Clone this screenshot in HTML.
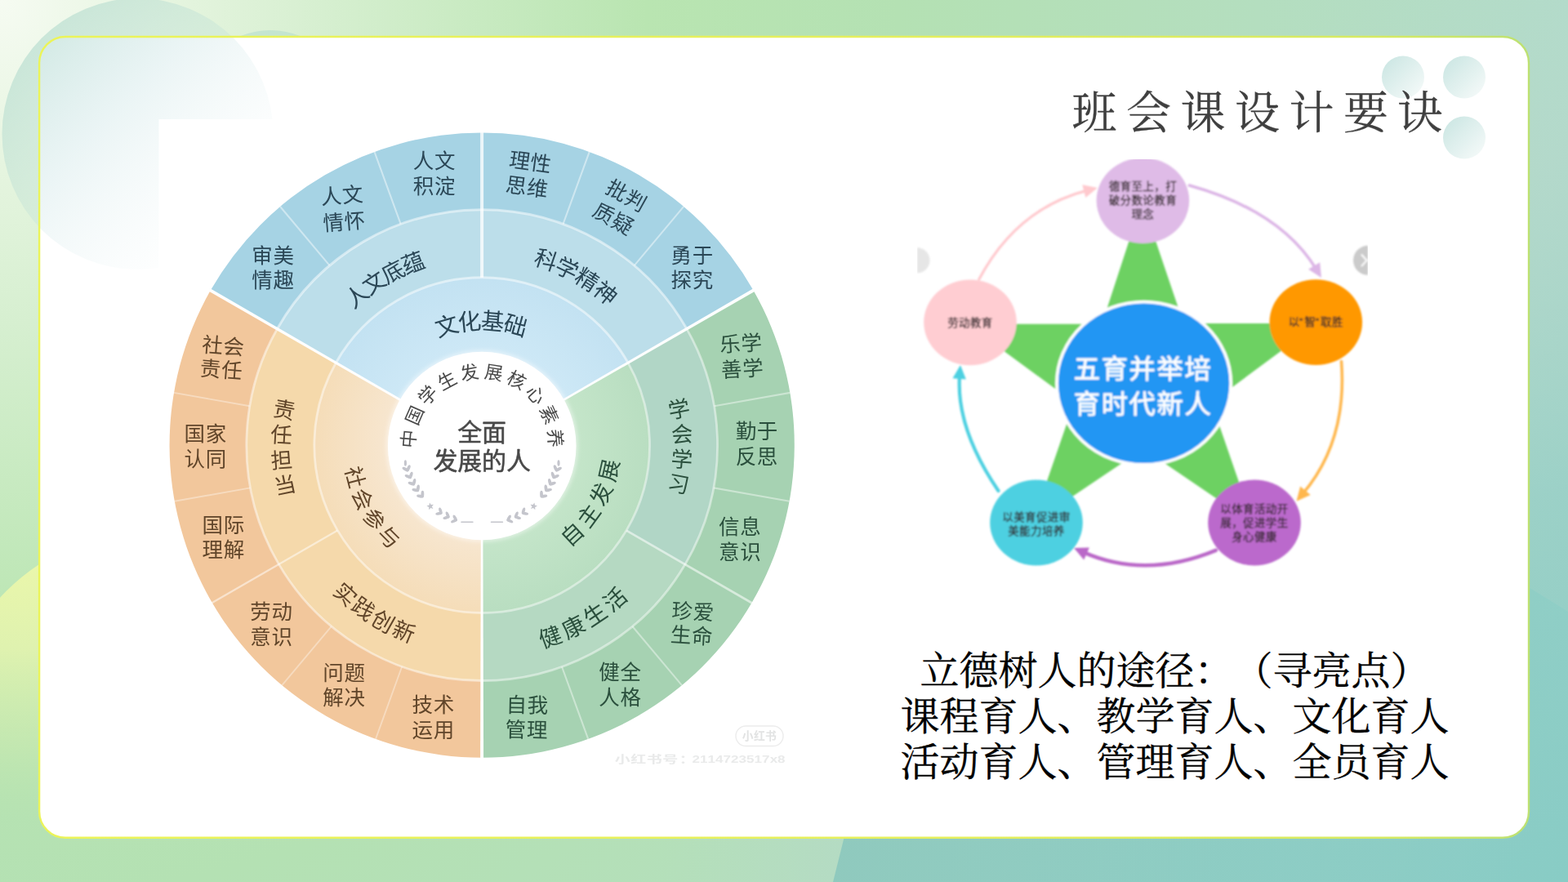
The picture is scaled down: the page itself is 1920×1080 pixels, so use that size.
<!DOCTYPE html>
<html lang="zh-CN">
<head>
<meta charset="utf-8">
<title>班会课设计要诀</title>
<style>
html,body{margin:0;padding:0;background:#b7e2b8}
body{width:1920px;height:1080px;overflow:hidden;font-family:"Liberation Sans","Noto Sans CJK SC",sans-serif}
.slide{position:relative;width:1920px;height:1080px;overflow:hidden}
.slide>svg{position:absolute;left:0;top:0;display:block}
</style>
</head>
<body>
<div class="slide">
<svg width="1920" height="1080" viewBox="0 0 1920 1080">
<defs>
<radialGradient id="bg" gradientUnits="userSpaceOnUse" cx="0" cy="0" r="2200">
<stop offset="0" stop-color="#f6fbf2"/><stop offset=".09" stop-color="#e6f5e0"/><stop offset=".18" stop-color="#d6efd0"/><stop offset=".36" stop-color="#b9e5b1"/><stop offset=".5" stop-color="#b4e1b3"/><stop offset=".7" stop-color="#b4debf"/><stop offset=".87" stop-color="#b3dbca"/><stop offset="1" stop-color="#a6d5c8"/>
</radialGradient>
<radialGradient id="bg2" gradientUnits="userSpaceOnUse" cx="1960" cy="1120" r="1150">
<stop offset="0" stop-color="#86cac4" stop-opacity=".95"/><stop offset=".45" stop-color="#93cdc6" stop-opacity=".7"/><stop offset=".8" stop-color="#b4d6cc" stop-opacity=".42"/><stop offset="1" stop-color="#b8d8cc" stop-opacity="0"/>
</radialGradient>
<linearGradient id="yel" gradientUnits="userSpaceOnUse" x1="0" y1="680" x2="0" y2="1010">
<stop offset="0" stop-color="#ebf7aa"/><stop offset=".35" stop-color="#e2f3af" stop-opacity=".92"/><stop offset=".7" stop-color="#cdebb0" stop-opacity=".55"/><stop offset="1" stop-color="#b8e3b0" stop-opacity="0"/>
</linearGradient>
<linearGradient id="teal" gradientUnits="userSpaceOnUse" x1="1020" y1="900" x2="1920" y2="1080">
<stop offset="0" stop-color="#8dc8bd" stop-opacity=".95"/><stop offset=".6" stop-color="#88cbc3" stop-opacity=".7"/><stop offset="1" stop-color="#86cdc6" stop-opacity=".38"/>
</linearGradient>
<linearGradient id="cb" gradientUnits="userSpaceOnUse" x1="48" y1="0" x2="1872" y2="0">
<stop offset="0" stop-color="#ebf458"/><stop offset=".6" stop-color="#e5ef5c"/><stop offset=".9" stop-color="#d6ea62"/><stop offset="1" stop-color="#bde172"/>
</linearGradient>
<linearGradient id="big" gradientUnits="userSpaceOnUse" x1="40" y1="40" x2="290" y2="290">
<stop offset="0" stop-color="#92cbbc" stop-opacity=".43"/><stop offset=".4" stop-color="#a3d0d2" stop-opacity=".22"/><stop offset="1" stop-color="#dfeff2" stop-opacity="0"/>
</linearGradient>
<linearGradient id="dot" x1="0.15" y1="0.15" x2="0.85" y2="0.85">
<stop offset="0" stop-color="#cfe8e5"/><stop offset="1" stop-color="#f1f8f7"/>
</linearGradient>
<radialGradient id="ib" gradientUnits="userSpaceOnUse" cx="590.2" cy="545.2" r="203"><stop offset=".58" stop-color="#cde8f6"/><stop offset="1" stop-color="#c3e2f2"/></radialGradient>
<radialGradient id="ig" gradientUnits="userSpaceOnUse" cx="590.2" cy="545.2" r="203"><stop offset=".58" stop-color="#c4e5c9"/><stop offset="1" stop-color="#b9dec1"/></radialGradient>
<radialGradient id="io" gradientUnits="userSpaceOnUse" cx="590.2" cy="545.2" r="203"><stop offset=".58" stop-color="#f7e6cf"/><stop offset="1" stop-color="#f5ddb9"/></radialGradient>
<filter id="soft" x="-10%" y="-10%" width="120%" height="120%"><feGaussianBlur stdDeviation="2.5"/></filter>
<filter id="b1" filterUnits="userSpaceOnUse" x="190" y="140" width="820" height="810"><feGaussianBlur stdDeviation=".75"/></filter>
<filter id="b2" filterUnits="userSpaceOnUse" x="1100" y="180" width="600" height="540"><feGaussianBlur stdDeviation=".85"/></filter>
<filter id="wmb" filterUnits="userSpaceOnUse" x="740" y="880" width="240" height="60"><feGaussianBlur stdDeviation=".6"/></filter>
<clipPath id="imgclip"><rect x="1123" y="195" width="552" height="515"/></clipPath>
</defs>

<rect width="1920" height="1080" fill="url(#bg)"/>
<rect width="1920" height="1080" fill="url(#bg2)"/>
<circle cx="185" cy="900" r="250" fill="url(#yel)"/>
<polygon points="1020,1080 1920,1080 1920,749 1600,550 1160,520" fill="url(#teal)"/>
<circle cx="331" cy="136" r="99" fill="#a9d6c9" fill-opacity=".45"/>
<rect x="48.1" y="45" width="1823.9" height="980.8" rx="32" fill="#fff"/>
<circle cx="168.5" cy="164" r="166" fill="url(#big)"/>
<rect x="48.1" y="45" width="1823.9" height="980.8" rx="32" fill="none" stroke="url(#cb)" stroke-width="2.4"/>
<g fill="url(#dot)"><circle cx="1718" cy="94.4" r="26"/><circle cx="1793" cy="94.4" r="26"/><circle cx="1793" cy="168.6" r="26"/></g>
<rect x="194.5" y="146" width="800" height="790" fill="#fff"/>

<g id="wheel" filter="url(#b1)"><path d="M257.8 355.6A382.6 382.6 0 0 1 922.5 355.5L840.1 403.1A287.4 287.4 0 0 0 340.3 403.2Z" fill="#a6d3e4"/><path d="M339.4 402.7A288.4 288.4 0 0 1 840.9 402.6L768.2 444.6A204.4 204.4 0 0 0 412.2 444.7Z" fill="#bcdeea"/><path d="M411.3 444.2A205.4 205.4 0 0 1 769 444.1L689.3 490.1A113.3 113.3 0 0 0 491.1 490.2Z" fill="url(#ib)"/><path d="M922.5 355.5A382.6 382.6 0 0 1 590.1 927.7L590.1 832.5A287.4 287.4 0 0 0 840.1 403.1Z" fill="#a6d2b2"/><path d="M840.9 402.6A288.4 288.4 0 0 1 590.1 833.5L590.1 749.5A204.4 204.4 0 0 0 768.2 444.6Z" fill="#b5d9c2"/><path d="M769 444.1A205.4 205.4 0 0 1 590.1 750.5L590.1 658.4A113.3 113.3 0 0 0 689.3 490.1Z" fill="url(#ig)"/><path d="M590.1 927.7A382.6 382.6 0 0 1 257.8 355.6L340.3 403.2A287.4 287.4 0 0 0 590.1 832.5Z" fill="#f2c79c"/><path d="M590.1 833.5A288.4 288.4 0 0 1 339.4 402.7L412.2 444.7A204.4 204.4 0 0 0 590.1 749.5Z" fill="#f5d9ab"/><path d="M590.1 750.5A205.4 205.4 0 0 1 411.3 444.2L491.1 490.2A113.3 113.3 0 0 0 590.1 658.4Z" fill="url(#io)"/><path d="M840.9 402.6A288.4 288.4 0 0 1 838.9 691.1L767.1 649.6A205.4 205.4 0 0 0 769 444.1Z" fill="#a9d2cf" opacity=".35"/><g fill="none" stroke="#fff"><path d="M339.4 402.7A288.4 288.4 0 0 1 840.9 402.6M411.3 444.2A205.4 205.4 0 0 1 769 444.1" stroke-width="3.0" stroke-opacity="0.5"/><path d="M403.6 325.2L343.1 253M490.7 274.4L458.5 185.9M689.5 274.3L721.7 185.8M776.7 325.1L837.2 252.9" stroke-width="2.1" stroke-opacity="0.45"/><path d="M590.1 339.7L590.1 161.5" stroke-width="4.0" stroke-opacity="0.78"/><path d="M840.9 402.6A288.4 288.4 0 0 1 590.1 833.5M769 444.1A205.4 205.4 0 0 1 590.1 750.5" stroke-width="2.8" stroke-opacity="0.46"/><path d="M874.6 497.2L967.4 480.9M873.8 597.4L966.6 613.8M774.4 767L834.9 839.2M688 816.4L720.2 904.9" stroke-width="2.1" stroke-opacity="0.42"/><path d="M767.1 649.6L921.4 738.7" stroke-width="2.8" stroke-opacity="0.55"/><path d="M590.1 833.5A288.4 288.4 0 0 1 339.4 402.7M590.1 750.5A205.4 205.4 0 0 1 411.3 444.2" stroke-width="2.8" stroke-opacity="0.48"/><path d="M492.2 816.3L460 904.9M405.9 766.9L345.3 839.1M306.6 597.4L213.8 613.8M305.8 497.3L213 480.9" stroke-width="1.9" stroke-opacity="0.36"/><path d="M413.3 649.5L259 738.6" stroke-width="2.3" stroke-opacity="0.5"/><polygon points="492.6,489.6 257.1,352.9 255.1,356.3 491.3,491.9" fill="#fff" stroke="none" fill-opacity=".97"/><polygon points="689.1,491.8 925.2,356.2 923.3,352.8 687.8,489.5" fill="#fff" stroke="none" fill-opacity=".97"/><polygon points="588.8,657.4 588.1,929.7 592.1,929.7 591.4,657.4" fill="#fff" stroke="none" fill-opacity=".97"/></g><circle cx="590.2" cy="546" r="117.3" fill="#fff" fill-opacity=".5" filter="url(#soft)"/><circle cx="590.2" cy="546" r="115.3" fill="#fff"/>
<g fill="#2b4656" font-family="'Liberation Sans','Noto Sans CJK SC',sans-serif" font-size="25.5">
<text x="308.25 334.45" y="321.82">审美</text>
<text x="308.25 334.45" y="352.32">情趣</text>
<text transform="translate(393.62 250.61) rotate(-4.5)" x="0 26.2">人文</text>
<text transform="translate(396.26 282.71) rotate(-4.5)" x="0 26.2">情怀</text>
<text x="505.85 532.05" y="205.77">人文</text>
<text x="505.85 532.05" y="237.37">积淀</text>
<text transform="translate(622.42 203.88) rotate(7.8)" x="0 26.2">理性</text>
<text transform="translate(618.35 234.41) rotate(7.8)" x="0 26.2">思维</text>
<text transform="translate(739.83 234.93) rotate(29.05)" x="0 26.2">批判</text>
<text transform="translate(723.78 263.31) rotate(29.05)" x="0 26.2">质疑</text>
<text x="821.55 847.75" y="322.42">勇于</text>
<text x="821.55 847.75" y="352.32">探究</text>
<g font-size="27.6">
<text transform="translate(432.76 378.91) rotate(-39.8)">人</text>
<text transform="translate(452.36 362.32) rotate(-34)">文</text>
<text transform="translate(473.7 348.03) rotate(-27)">底</text>
<text transform="translate(496.5 336.23) rotate(-21)">蕴</text>
<text transform="translate(652.23 323.25) rotate(18.8)">科</text>
<text transform="translate(677.61 331.97) rotate(25.6)">学</text>
<text transform="translate(701.81 343.59) rotate(32.5)">精</text>
<text transform="translate(724.49 357.94) rotate(39.1)">神</text>
</g>
<g font-size="28.5">
<text transform="translate(536.32 413.12) rotate(-16.2)">文</text>
<text transform="translate(561.76 405.41) rotate(-6)">化</text>
<text transform="translate(588.19 402.56) rotate(5)">基</text>
<text transform="translate(614.69 404.67) rotate(15.3)">础</text>
</g>
</g>
<g fill="#2a4f3c" font-family="'Liberation Sans','Noto Sans CJK SC',sans-serif" font-size="25.5">
<text transform="translate(881.75 431.22) rotate(-3.4)" x="0 26.2">乐学</text>
<text transform="translate(883.6 462.36) rotate(-3.4)" x="0 26.2">善学</text>
<text x="900.65 926.85" y="537.27">勤于</text>
<text x="900.65 926.85" y="567.87">反思</text>
<text x="879.95 906.15" y="653.92">信息</text>
<text x="879.95 906.15" y="685.42">意识</text>
<text transform="translate(822.07 756.38) rotate(3.4)" x="0 26.2">珍爱</text>
<text transform="translate(820.42 785.83) rotate(3.4)" x="0 26.2">生命</text>
<text x="733.35 759.55" y="832.02">健全</text>
<text x="733.35 759.55" y="862.52">人格</text>
<text transform="translate(619.4 872.04) rotate(1.1)" x="0 26.2">自我</text>
<text transform="translate(618.61 902.13) rotate(1.1)" x="0 26.2">管理</text>
<g font-size="26.5">
<text transform="translate(820.28 512.92) rotate(-10.9)">学</text>
<text transform="translate(822.5 541.89) rotate(-3.2)">会</text>
<text transform="translate(821.08 570.91) rotate(4.3)">学</text>
<text transform="translate(816.05 599.53) rotate(10.9)">习</text>
</g>
<g font-size="27.7">
<text transform="translate(664.15 794.29) rotate(-20.1)">健</text>
<text transform="translate(694.26 783.3) rotate(-26.6)">康</text>
<text transform="translate(722.79 768.68) rotate(-34)">生</text>
<text transform="translate(749.3 750.66) rotate(-40.6)">活</text>
</g>
<g font-size="27.2">
<text transform="translate(697.5 670.8) rotate(-42.8)">自</text>
<text transform="translate(720.96 648.2) rotate(-54)">主</text>
<text transform="translate(739.56 621.45) rotate(-65.3)">发</text>
<text transform="translate(752.57 591.58) rotate(-77.2)">展</text>
</g>
</g>
<g fill="#614529" font-family="'Liberation Sans','Noto Sans CJK SC',sans-serif" font-size="25.5">
<text x="504.55 530.75" y="872.37">技术</text>
<text x="504.55 530.75" y="902.97">运用</text>
<text x="395.35 421.55" y="832.67">问题</text>
<text x="395.35 421.55" y="863.27">解决</text>
<text x="306.35 332.55" y="758.47">劳动</text>
<text x="306.35 332.55" y="789.07">意识</text>
<text x="247.55 273.75" y="651.87">国际</text>
<text x="247.55 273.75" y="682.47">理解</text>
<text x="225.45 251.65" y="539.87">国家</text>
<text x="225.45 251.65" y="571.27">认同</text>
<text transform="translate(246.74 430.66) rotate(4.5)" x="0 26.2">社会</text>
<text transform="translate(244.31 459.66) rotate(4.5)" x="0 26.2">责任</text>
<g font-size="27.2">
<text transform="translate(406.19 725.63) rotate(42.8)">实</text>
<text transform="translate(428.16 745.58) rotate(36)">践</text>
<text transform="translate(452.28 762.88) rotate(29.4)">创</text>
<text transform="translate(478.22 777.29) rotate(22.4)">新</text>
</g>
<g font-size="26.5">
<text transform="translate(333.27 508.7) rotate(10.9)">责</text>
<text transform="translate(330.73 541.33) rotate(3.2)">任</text>
<text transform="translate(332.32 574.01) rotate(-4.3)">担</text>
<text transform="translate(338.01 606.24) rotate(-11.9)">当</text>
</g>
<g font-size="26">
<text transform="translate(422.29 574.01) rotate(75.4)">社</text>
<text transform="translate(430.04 603.2) rotate(65.9)">会</text>
<text transform="translate(442.81 630.57) rotate(56)">参</text>
<text transform="translate(460.22 655.25) rotate(45)">与</text>
</g>
</g>
<g fill="#484848" stroke="#484848" stroke-width="0.54" stroke-linejoin="round" font-family="'Liberation Sans','Noto Sans CJK SC',sans-serif" font-size="30">
<text x="560.3 590.1" y="540.4">全面</text>
<text x="530.5 560.3 590.1 619.9" y="575.4">发展的人</text>
</g>
<g fill="#4a4a4a" font-family="'Liberation Sans','Noto Sans CJK SC',sans-serif" font-size="22.5">
<text transform="translate(507.58 549.16) rotate(-84.9)">中</text>
<text transform="translate(510.69 522.28) rotate(-66.3)">国</text>
<text transform="translate(522.32 497.83) rotate(-47.7)">学</text>
<text transform="translate(541.21 478.45) rotate(-27.7)">生</text>
<text transform="translate(565.35 466.2) rotate(-10.3)">发</text>
<text transform="translate(592.15 462.4) rotate(9)">展</text>
<text transform="translate(618.74 467.46) rotate(27.7)">核</text>
<text transform="translate(642.28 480.83) rotate(46.8)">心</text>
<text transform="translate(660.23 501.08) rotate(65.1)">素</text>
<text transform="translate(670.69 526.05) rotate(84.9)">养</text>
</g>
<g fill="#c4c5cc"><ellipse cx="3.1" cy="0" rx="4.7" ry="2.05" transform="translate(499 576.1)rotate(-150.8)scale(0.93)"/><ellipse cx="3.1" cy="0" rx="4.7" ry="2.05" transform="translate(499 576.1)rotate(-66.8)scale(0.93)"/><ellipse cx="3.1" cy="0" rx="4.7" ry="2.05" transform="translate(502.4 584.7)rotate(-156.3)scale(0.93)"/><ellipse cx="3.1" cy="0" rx="4.7" ry="2.05" transform="translate(502.4 584.7)rotate(-72.3)scale(0.93)"/><ellipse cx="3.1" cy="0" rx="4.7" ry="2.05" transform="translate(506.6 593)rotate(-161.8)scale(0.93)"/><ellipse cx="3.1" cy="0" rx="4.7" ry="2.05" transform="translate(506.6 593)rotate(-77.8)scale(0.93)"/><ellipse cx="3.1" cy="0" rx="4.7" ry="2.05" transform="translate(511.6 600.7)rotate(-167.3)scale(0.93)"/><ellipse cx="3.1" cy="0" rx="4.7" ry="2.05" transform="translate(511.6 600.7)rotate(-83.3)scale(0.93)"/><ellipse cx="3.1" cy="0" rx="4.7" ry="2.05" transform="translate(517.3 608)rotate(-172.8)scale(0.93)"/><ellipse cx="3.1" cy="0" rx="4.7" ry="2.05" transform="translate(517.3 608)rotate(-88.8)scale(0.93)"/><ellipse cx="496.4" cy="567" rx="1.6" ry="3.8"/><ellipse cx="3.1" cy="0" rx="4.7" ry="2.05" transform="translate(540.2 628.2)rotate(-191)scale(0.9)"/><ellipse cx="3.1" cy="0" rx="4.7" ry="2.05" transform="translate(540.2 628.2)rotate(-107)scale(0.9)"/><ellipse cx="3.1" cy="0" rx="4.7" ry="2.05" transform="translate(549.2 633)rotate(-197)scale(0.9)"/><ellipse cx="3.1" cy="0" rx="4.7" ry="2.05" transform="translate(549.2 633)rotate(-113)scale(0.9)"/><ellipse cx="3.1" cy="0" rx="4.7" ry="2.05" transform="translate(558.6 636.8)rotate(-203)scale(0.9)"/><ellipse cx="3.1" cy="0" rx="4.7" ry="2.05" transform="translate(558.6 636.8)rotate(-119)scale(0.9)"/><polygon points="526,615.5 527.8,618.1 530.9,617.7 528.9,620.2 530.4,623 527.4,621.9 525.1,624.2 525.2,621 522.4,619.5 525.5,618.6"/><rect x="564.2" y="638.5" width="15.5" height="1.6" rx=".8"/><ellipse cx="3.1" cy="0" rx="4.7" ry="2.05" transform="translate(681.4 576.1)rotate(-113.2)scale(0.93)"/><ellipse cx="3.1" cy="0" rx="4.7" ry="2.05" transform="translate(681.4 576.1)rotate(-29.2)scale(0.93)"/><ellipse cx="3.1" cy="0" rx="4.7" ry="2.05" transform="translate(678 584.7)rotate(-107.7)scale(0.93)"/><ellipse cx="3.1" cy="0" rx="4.7" ry="2.05" transform="translate(678 584.7)rotate(-23.7)scale(0.93)"/><ellipse cx="3.1" cy="0" rx="4.7" ry="2.05" transform="translate(673.8 593)rotate(-102.2)scale(0.93)"/><ellipse cx="3.1" cy="0" rx="4.7" ry="2.05" transform="translate(673.8 593)rotate(-18.2)scale(0.93)"/><ellipse cx="3.1" cy="0" rx="4.7" ry="2.05" transform="translate(668.8 600.7)rotate(-96.7)scale(0.93)"/><ellipse cx="3.1" cy="0" rx="4.7" ry="2.05" transform="translate(668.8 600.7)rotate(-12.7)scale(0.93)"/><ellipse cx="3.1" cy="0" rx="4.7" ry="2.05" transform="translate(663.1 608)rotate(-91.2)scale(0.93)"/><ellipse cx="3.1" cy="0" rx="4.7" ry="2.05" transform="translate(663.1 608)rotate(-7.2)scale(0.93)"/><ellipse cx="684" cy="567" rx="1.6" ry="3.8"/><ellipse cx="3.1" cy="0" rx="4.7" ry="2.05" transform="translate(640.2 628.2)rotate(-73)scale(0.9)"/><ellipse cx="3.1" cy="0" rx="4.7" ry="2.05" transform="translate(640.2 628.2)rotate(11)scale(0.9)"/><ellipse cx="3.1" cy="0" rx="4.7" ry="2.05" transform="translate(631.2 633)rotate(-67)scale(0.9)"/><ellipse cx="3.1" cy="0" rx="4.7" ry="2.05" transform="translate(631.2 633)rotate(17)scale(0.9)"/><ellipse cx="3.1" cy="0" rx="4.7" ry="2.05" transform="translate(621.8 636.8)rotate(-61)scale(0.9)"/><ellipse cx="3.1" cy="0" rx="4.7" ry="2.05" transform="translate(621.8 636.8)rotate(23)scale(0.9)"/><polygon points="654.4,615.5 654.9,618.6 658,619.5 655.2,621 655.3,624.2 653,621.9 650,623 651.5,620.2 649.5,617.7 652.6,618.1"/><rect x="600.7" y="638.5" width="15.5" height="1.6" rx=".8"/></g></g>
<g filter="url(#wmb)"><rect x="901" y="889" width="58" height="24.5" rx="12.2" fill="#fff" stroke="#ececec" stroke-width="1.4"/>
<g fill="#e2e3e3" font-family="'Liberation Sans','Noto Sans CJK SC',sans-serif" font-size="13.8" font-weight="bold"><text x="908.71 922.91 937.11" y="906.33">小红书</text></g>
<g fill="#e9eaea" font-family="'Liberation Sans','Noto Sans CJK SC',sans-serif" font-size="13" font-weight="bold">
<text transform="translate(752.73 934.14) scale(1.46 1)" x="0 13.36 26.71 40.07 54.08" y="0">小红书号：</text>
<text transform="translate(847.45 934.14) scale(1.31 1)" x="0 7.25 14.5 21.75 29 36.25 43.5 50.75 58 65.25 72.78 79.74" y="0">2114723517x8</text>
</g></g>
<g clip-path="url(#imgclip)"><g id="star" filter="url(#b2)"><polygon points="1398.5,246 1449.3,396 1614.4,396 1483.4,492.9 1534.6,641.1 1400,549.4 1264,641.1 1315.2,492.9 1184.2,396.7 1349.3,396.7" fill="#6dd162"/><path d="M1198.8 342Q1245 255 1332.3 232.9" fill="none" stroke="#ffc9ce" stroke-width="3.2" stroke-linecap="round"/><polygon points="1343.8,230 1329.3,242.1 1325.3,226.2" fill="#ffc9ce"/><path d="M1456.3 227Q1568 258 1611.8 329.8" fill="none" stroke="#dcb6e6" stroke-width="3.6" stroke-linecap="round"/><polygon points="1618,340 1602.1,329.8 1616.2,321.2" fill="#dcb6e6"/><path d="M1642.5 442.5Q1650 540 1595.2 604.7" fill="none" stroke="#ffb74d" stroke-width="3.6" stroke-linecap="round"/><polygon points="1587.5,613.8 1592.2,595.5 1604.7,606.1" fill="#ffb74d"/><path d="M1488.8 673.8Q1402 709.6 1325.9 675.8" fill="none" stroke="#ba68c8" stroke-width="4.6" stroke-linecap="round"/><polygon points="1315,671 1333.9,670.4 1327.2,685.4" fill="#ba68c8"/><path d="M1222.5 601Q1170.1 524 1175.1 458.9" fill="none" stroke="#4dd0e1" stroke-width="4.2" stroke-linecap="round"/><polygon points="1176,447 1182.9,464.6 1166.5,463.3" fill="#4dd0e1"/><ellipse cx="1399.4" cy="245.6" rx="56.8" ry="52.4" fill="#dfbbe7"/><ellipse cx="1611.3" cy="394.6" rx="56.8" ry="52.4" fill="#ff9800"/><ellipse cx="1536" cy="640" rx="56.8" ry="52.4" fill="#bb69cc"/><ellipse cx="1269" cy="640" rx="56.8" ry="52.4" fill="#4dd0e1"/><ellipse cx="1188" cy="394.8" rx="56.8" ry="52.4" fill="#ffcdd2"/><ellipse cx="1400.6" cy="469.3" rx="106.6" ry="99.7" fill="#2196f3" stroke="#fff" stroke-width="3.8"/>
<g fill="#fff" stroke="#fff" stroke-width="0.8" font-family="'Liberation Sans','Noto Sans CJK SC',sans-serif" font-size="32.3">
<text x="1314.81 1348.71 1382.61 1416.51 1450.41" y="463.2">五育并举培</text>
<text x="1314.81 1348.71 1382.61 1416.51 1450.41" y="505.7">育时代新人</text>
</g>
<g fill="#33292c" stroke="#33292c" stroke-width="0.3" font-family="'Liberation Sans','Noto Sans CJK SC',sans-serif" font-size="13.5" letter-spacing="0.4">
<text x="1357.67" y="233.46">德育至上，打</text>
<text x="1357.67" y="250.46">破分数论教育</text>
<text x="1385.47" y="267.46">理念</text>
<text x="1577.64 1590.87 1597.37 1610.61 1617.11 1631.01" y="399.46" letter-spacing="0">以"智"取胜</text>
<text x="1494.27" y="627.86">以体育活动开</text>
<text x="1494.27" y="644.86">展，促进学生</text>
<text x="1508.17" y="661.86">身心健康</text>
<text x="1227.27" y="638.36">以美育促进审</text>
<text x="1234.22" y="655.36">美能力培养</text>
<text x="1160.17" y="399.66">劳动教育</text>
</g>
<g clip-path="url(#imgclip)"><circle cx="1123" cy="318.8" r="15.5" fill="#e6e6e6"/><circle cx="1675" cy="318.8" r="18" fill="#cbcbcb"/><path d="M1667 311.5l6.5 7.3l-6.5 7.3" fill="none" stroke="#fff" stroke-width="2"/></g></g></g>
<g fill="#3f3f3f" stroke="#3f3f3f" stroke-width="0.28" font-family="'Liberation Serif','Noto Serif CJK SC',serif" font-size="55">
<text x="1312.42 1378.92 1445.42 1511.92 1578.42 1644.92 1711.42" y="156.86">班会课设计要诀</text>
</g>
<g fill="#000" stroke="#000" stroke-width="0.35" font-family="'Liberation Serif','Noto Serif CJK SC',serif" font-size="48">
<text x="1126.5 1174.5 1222.5 1270.5 1318.5 1366.5 1414.5 1462.5 1510.5 1558.5 1606.5 1654.5 1702.5" y="837.84">立德树人的途径：（寻亮点）</text>
<text x="1102.5 1150.5 1198.5 1246.5 1294.5 1342.5 1390.5 1438.5 1486.5 1534.5 1582.5 1630.5 1678.5 1726.5" y="894.24">课程育人、教学育人、文化育人</text>
<text x="1102.5 1150.5 1198.5 1246.5 1294.5 1342.5 1390.5 1438.5 1486.5 1534.5 1582.5 1630.5 1678.5 1726.5" y="950.44">活动育人、管理育人、全员育人</text>
</g>
</svg>
</div>
</body>
</html>
